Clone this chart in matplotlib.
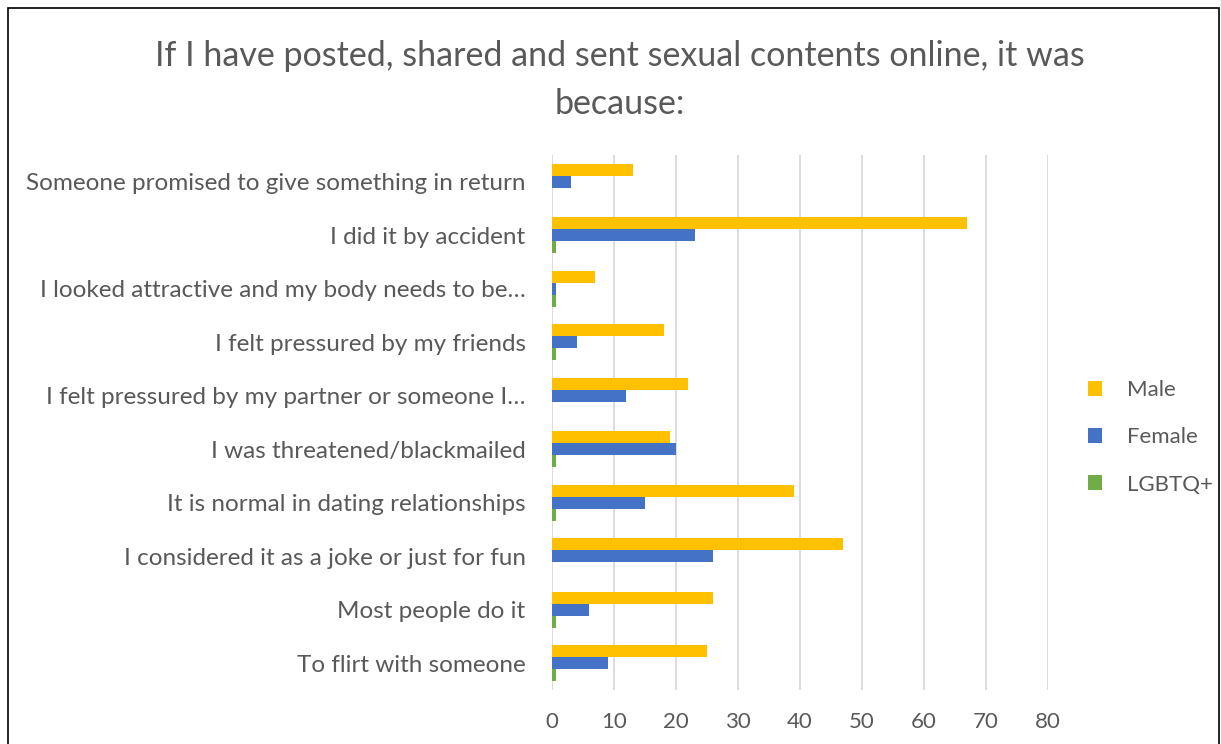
import matplotlib
matplotlib.use("Agg")
import matplotlib.pyplot as plt
import numpy as np
from matplotlib.patches import Rectangle

plt.rcParams["font.family"] = ["Lato", "DejaVu Sans"]

# categories from top to bottom, as in the picture
reasons = [
    "Someone promised to give something in return",
    "I did it by accident",
    "I looked attractive and my body needs to be\u2026",
    "I felt pressured by my friends",
    "I felt pressured by my partner or someone I\u2026",
    "I was threatened/blackmailed",
    "It is normal in dating relationships",
    "I considered it as a joke or just for fun",
    "Most people do it",
    "To flirt with someone",
]
male = [13, 67, 7, 18, 22, 19, 39, 47, 26, 25]
female = [3, 23, 0.7, 4, 12, 20, 15, 26, 6, 9]
lgbtq = [0, 0.7, 0.7, 0.7, 0, 0.7, 0.7, 0, 0.7, 0.7]
ticks = [0, 10, 20, 30, 40, 50, 60, 70, 80]

grey = "#595959"
fig = plt.figure(figsize=(12.21, 7.44), dpi=100)
ax = fig.add_axes([552 / 1221, 1 - 690 / 744, (1048 - 552) / 1221, (690 - 155) / 744])

y = np.arange(len(reasons))
h = 0.225
ax.barh(y - h, male, height=h, color="#FFC000", label="Male")
ax.barh(y, female, height=h, color="#4472C4", label="Female")
ax.barh(y + h, lgbtq, height=h, color="#70AD47", label="LGBTQ+")

ax.set_ylim(len(reasons) - 0.5, -0.5)
ax.set_xlim(0, 80)
ax.set_xticks(ticks)
ax.set_yticks(y)
ax.set_yticklabels(reasons)
ax.tick_params(length=0, labelsize=16, colors=grey)
ax.tick_params(axis="y", labelsize=17.5, pad=19)
ax.tick_params(axis="x", pad=16)
ax.grid(axis="x", color="#d9d9d9", lw=1.3)
ax.set_axisbelow(True)
for s in ax.spines.values():
    s.set_visible(False)

leg = ax.legend(loc="center left", bbox_to_anchor=(1.04, 0.472), frameon=False,
                fontsize=16, labelcolor=grey, handlelength=0.65, handleheight=0.65,
                handletextpad=1.1, labelspacing=1.22)

fig.text(620 / 1221, 1 - 80 / 744,
         "If I have posted, shared and sent sexual contents online, it was\nbecause:",
         ha="center", va="center", fontsize=24.5, color=grey, linespacing=1.6)

fig.patches.append(Rectangle((8 / 1221, -0.01), 1211 / 1221, 1.0 - 8 / 744 + 0.01,
                             transform=fig.transFigure, fill=False, ec="black", lw=1.2))

fig.savefig("out.png", dpi=100)
